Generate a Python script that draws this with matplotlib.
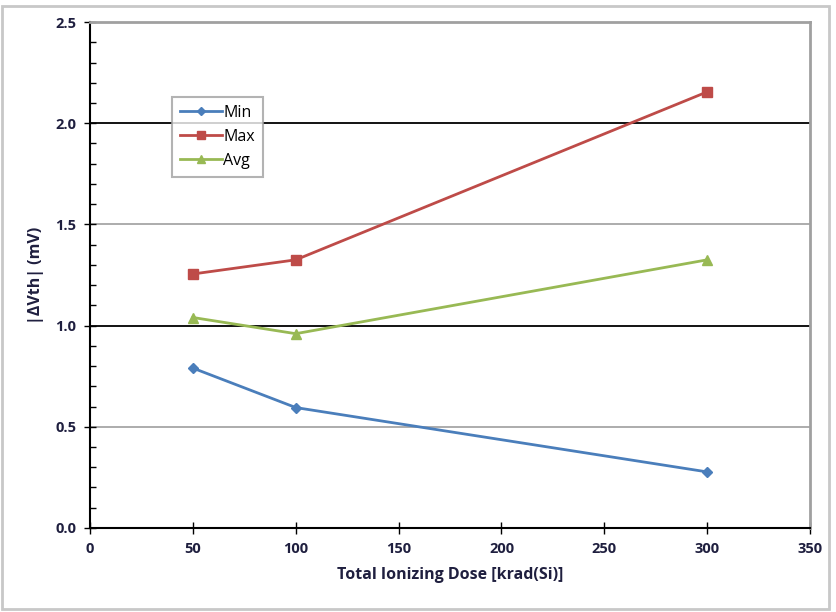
import matplotlib
matplotlib.use('Agg')
import matplotlib.pyplot as plt
from matplotlib.patches import Rectangle
from matplotlib.ticker import MultipleLocator

plt.rcParams['font.family'] = ['Open Sans', 'DejaVu Sans']

dose = [50, 100, 300]
v_min = [0.79, 0.595, 0.277]
v_max = [1.255, 1.325, 2.155]
v_avg = [1.04, 0.96, 1.325]

fig = plt.figure(figsize=(8.36, 6.12), dpi=100)
ax = fig.add_axes([0.1077, 0.1373, 0.8613, 0.8267])

# horizontal gridlines: black on whole numbers, gray on halves
for y in [0.5, 1.5]:
    ax.axhline(y, color='#a6a6a6', lw=1.3, zorder=1)
for y in [1.0, 2.0]:
    ax.axhline(y, color='black', lw=1.3, zorder=1)

ax.plot(dose, v_min, color='#4a7ebb', lw=2, marker='D', ms=5, label='Min', zorder=3)
ax.plot(dose, v_max, color='#be4b48', lw=2, marker='s', ms=7, label='Max', zorder=3)
ax.plot(dose, v_avg, color='#98b954', lw=2, marker='^', ms=7, label='Avg', zorder=3)

ax.set_xlim(0, 350)
ax.set_ylim(0, 2.5)
ax.xaxis.set_major_locator(MultipleLocator(50))
ax.yaxis.set_major_locator(MultipleLocator(0.5))
ax.yaxis.set_minor_locator(MultipleLocator(0.1))
ax.yaxis.set_major_formatter(matplotlib.ticker.FormatStrFormatter('%.1f'))

for s in ['left', 'bottom']:
    ax.spines[s].set_color('black')
    ax.spines[s].set_linewidth(1.5)
for s in ['top', 'right']:
    ax.spines[s].set_color('#a0a0a0')
    ax.spines[s].set_linewidth(2)

ax.tick_params(axis='both', which='major', direction='inout', length=8, width=1, labelsize=10.5, pad=6)
ax.tick_params(axis='y', which='minor', direction='in', length=4, width=1)
ax.tick_params(axis='x', which='minor', bottom=False)
for lbl in ax.get_xticklabels() + ax.get_yticklabels():
    lbl.set_fontweight('bold')
    lbl.set_color('#1f1f3f')

ax.set_xlabel('Total Ionizing Dose [krad(Si)]', fontsize=11.5, fontweight='bold', color='#1f1f3f', labelpad=8)
ax.set_ylabel('|ΔVth| (mV)', fontsize=11.5, fontweight='bold', color='#1f1f3f', labelpad=8)

leg = ax.legend(loc='upper left', bbox_to_anchor=(0.114, 0.852), fontsize=11.5, frameon=True,
                fancybox=False, edgecolor='#a0a0a0', handlelength=2.6, handletextpad=0.1,
                labelspacing=0.5, borderpad=0.5, borderaxespad=0, markerscale=0.8)
leg.get_frame().set_linewidth(1.5)
leg.set_zorder(5)

fig.patches.append(Rectangle((0.002, 0.005), 0.99, 0.985, transform=fig.transFigure,
                             fill=False, edgecolor='#c8c8c8', lw=2))

fig.savefig('out.png', dpi=100)
